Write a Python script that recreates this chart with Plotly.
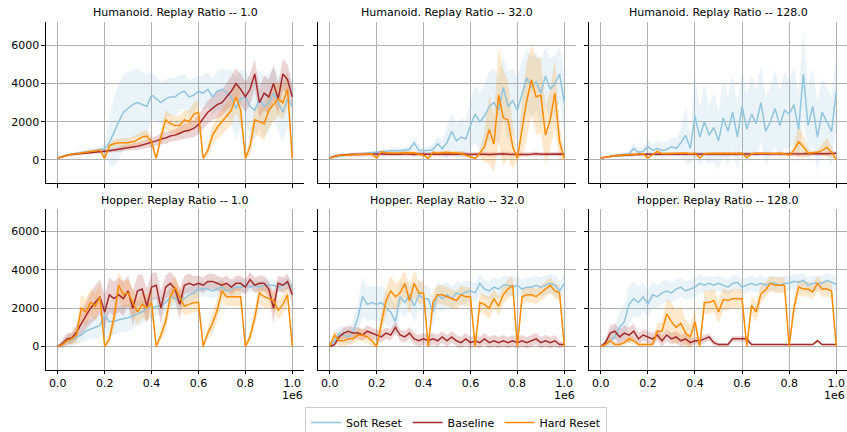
import numpy as np
import plotly.graph_objects as go

# Evaluation steps (in units of 1e6 environment steps)
STEPS = np.linspace(0.0, 1.0, 51)

TITLES = ["Humanoid. Replay Ratio -- 1.0", "Humanoid. Replay Ratio -- 32.0", "Humanoid. Replay Ratio -- 128.0",
          "Hopper. Replay Ratio -- 1.0", "Hopper. Replay Ratio -- 32.0", "Hopper. Replay Ratio -- 128.0"]
SERIES = ["Soft Reset", "Baseline", "Hard Reset"]
XTICKS = [0.0, 0.2, 0.4, 0.6, 0.8, 1.0]
YTICKS = [0, 2000, 4000, 6000]

# ---------------- Humanoid, RR 1.0 ----------------
H1_SOFT = [100,180,250,300,350,380,420,450,500,550, 600,900,1500,2000,2500,2700,2900,3000,2900,2800,
           3400,3200,3000,3200,3300,3300,3500,3600,3300,3400, 3600,3500,3700,3300,3600,3700,3500,3300,2700,3200,
           3300,2800,2600,3200,2800,3000,3500,3000,2500,3200, 2800]
H1_SOFT_SD = [30,50,60,80,100,100,120,150,150,200, 300,1200,1800,2000,2000,1900,1800,1800,1700,1700,
              1200,1200,1100,1000,1000,1000,900,900,900,900, 800,900,900,1000,1000,1100,1200,1400,1600,1500,
              1400,1500,1600,1500,1600,1500,1400,1500,1600,1400, 1200]
H1_BASE = [100,180,250,290,320,350,380,400,420,440, 460,480,520,560,600,620,680,720,780,850,
           900,1000,1100,1150,1250,1300,1400,1500,1550,1650, 1850,2200,2500,2700,2900,3000,3300,3600,4000,3700,
           3300,3700,4500,3000,3500,3300,4000,3200,4500,4200, 3300]
H1_BASE_SD = [30,40,50,50,60,60,70,80,80,90, 100,100,120,130,150,150,160,180,200,220,
              250,250,280,300,300,300,350,400,400,450, 500,550,600,600,700,700,700,800,800,800,
              800,800,800,800,900,900,900,800,800,800, 700]
H1_HARD = [100,180,250,300,330,360,400,430,470,520, 80,750,850,900,900,900,950,1050,1200,1250,
           950,80,1200,2100,1900,1800,1800,2100,2000,2400, 2500,80,500,1300,1700,2000,2300,2600,3300,2600,
           80,700,2100,2000,1900,2600,2900,3200,3000,3700, 80]
H1_HARD_SD = [30,40,50,60,60,70,80,80,90,100, 50,150,200,200,250,250,250,300,300,300,
              300,50,400,500,500,500,500,500,600,600, 600,50,300,500,600,700,700,800,800,800,
              50,500,700,800,900,900,900,900,900,900, 50]

# ---------------- Humanoid, RR 32.0 ----------------
H32_SOFT = [100,150,200,230,260,280,300,320,350,380, 400,420,450,480,500,480,500,550,900,500,
            500,500,550,850,600,900,1500,1000,1200,1100, 1800,2400,2000,2300,2800,3000,2600,3800,2800,3100,
            2600,3500,4300,3800,4100,3500,4400,3700,4000,4500, 3000]
H32_SOFT_SD = [30,40,50,50,60,60,70,80,80,90, 100,100,120,120,150,150,150,200,300,200,
               200,200,250,400,400,800,1000,900,1000,1000, 1200,1500,1500,1600,1800,1800,1800,1600,1800,1700,
               1800,1700,1500,1600,1500,1700,1500,1600,1500,1400, 1500]
H32_BASE = [100,200,250,270,280,300,290,300,310,290, 300,320,300,290,310,300,320,300,290,310,
            300,320,300,310,300,290,310,300,320,300, 290,300,310,300,290,310,300,320,300,290,
            310,300,290,300,320,300,310,290,300,310, 300]
H32_BASE_SD = [30,50,60,70,80,90,100,100,110,110, 120,120,120,120,120,120,120,120,120,120,
               120,120,120,120,120,120,120,120,120,120, 120,120,120,120,120,120,120,120,120,120,
               120,120,120,120,120,120,120,120,120,120, 100]
H32_HARD = [100,180,230,250,260,280,300,300,320,320, 100,430,380,350,350,370,380,400,380,300,
            250,80,400,350,380,400,380,370,350,250, 150,80,350,700,1600,830,3400,2200,2100,700,
            80,1700,3100,4200,3300,3400,1300,2100,3500,950, 80]
H32_HARD_SD = [30,40,50,50,60,60,70,70,80,80, 50,100,100,100,100,100,100,100,100,100,
               100,50,100,100,100,100,100,100,100,100, 100,50,200,800,1800,1500,2500,2500,2000,1200,
               50,1500,2000,1800,2000,2000,1500,1500,1800,1000, 50]

# ---------------- Humanoid, RR 128.0 ----------------
H128_SOFT = [100,150,200,230,260,300,320,600,400,450, 700,500,600,500,550,700,600,900,1300,600,
             2300,1200,2000,1300,1700,1000,2200,1500,2500,1200, 2800,1600,2400,1900,3000,1500,2000,2700,1800,2600,
             2400,2900,1600,4500,1800,2800,1200,2500,2000,1500, 3600]
H128_SOFT_SD = [30,50,60,80,100,120,150,300,200,250, 400,300,400,400,400,500,500,700,1500,800,
                2200,1500,2000,1500,1800,1500,2000,1800,2000,1700, 2000,1800,2000,1800,2000,1800,1800,2000,1800,2000,
                1800,2000,1800,2200,2000,2000,1800,1800,1800,1800, 1900]
H128_BASE = [100,150,200,220,240,260,270,280,290,300, 300,310,300,310,320,300,310,320,310,300,
             320,310,300,320,310,320,300,310,320,330, 310,320,300,310,330,320,310,320,330,300,
             320,330,310,320,340,330,320,310,330,340, 350]
H128_BASE_SD = [30,40,50,60,60,70,70,80,80,80, 90,90,90,90,90,90,90,90,90,90,
                100,100,100,100,100,100,100,100,100,100, 100,100,100,100,100,100,100,100,100,100,
                100,100,100,100,100,100,100,100,100,100, 100]
H128_HARD = [100,150,200,220,250,260,280,300,300,320, 100,300,450,330,340,350,330,340,360,320,
             350,100,330,340,350,330,340,350,340,330, 350,120,330,350,340,360,330,340,350,330,
             250,500,950,700,350,380,400,500,660,400, 30]
H128_HARD_SD = [30,40,50,50,60,60,60,60,60,60, 40,60,80,60,60,60,60,60,60,60,
                60,40,60,60,60,60,60,60,60,60, 60,40,60,60,60,60,60,60,60,60,
                60,300,800,600,200,100,100,300,500,300, 30]

# ---------------- Hopper, RR 1.0 ----------------
P1_SOFT = [0,150,300,350,500,600,800,900,1000,1100, 1600,1300,1300,1400,1450,1500,1600,1700,1800,2000,
           2000,2100,2100,2300,2600,2500,2400,2500,2700,2800, 3000,3000,3000,2900,3000,3100,2900,3000,3100,3100,
           3200,3100,3200,3100,3200,3200,3200,3100,3200,3300, 3100]
P1_SOFT_SD = [50,200,300,300,400,400,500,500,600,600, 700,700,700,700,700,700,700,600,600,600,
              500,500,500,500,500,500,500,500,400,400, 400,400,400,400,400,400,400,400,400,400,
              300,300,300,300,300,300,300,300,300,300, 300]
P1_BASE = [0,150,400,450,750,1200,1600,2000,2300,2600, 1800,2700,2500,2700,2500,2900,2000,2900,3000,2100,
           3100,3200,2000,3100,3300,3000,2200,3200,3300,3200, 3300,3200,3400,3400,3300,3200,3300,3100,3300,3300,
           3100,3500,3200,3300,3300,3000,2000,3300,3200,3400, 2700]
P1_BASE_SD = [50,200,300,300,400,600,700,800,900,900, 900,900,900,900,900,800,900,800,800,900,
              700,700,900,600,600,600,800,500,500,500, 400,400,400,400,400,400,400,400,400,400,
              400,400,400,400,400,400,800,400,400,400, 500]
P1_HARD = [0,100,300,400,600,2000,1800,2300,2100,2600, 0,400,1500,3200,2700,2800,2300,1800,2200,2000,
           2300,0,600,1300,2600,3100,2600,2100,2200,2300, 2300,0,700,1200,1900,2900,2600,2600,2600,2600,
           0,500,1500,2800,2600,2500,2400,1900,2200,2700, 0]
P1_HARD_SD = [50,100,200,300,400,700,700,700,700,700, 50,300,600,700,700,700,700,700,700,700,
              700,50,300,500,600,600,500,500,500,500, 500,50,300,500,600,600,500,500,500,500,
              50,300,500,600,600,500,500,500,500,500, 50]

# ---------------- Hopper, RR 32.0 ----------------
P32_SOFT = [0,300,700,600,500,800,1500,2600,2200,2300, 2200,2300,2000,1800,1300,2600,2300,2700,2100,2700,
            2500,2500,1800,2700,2500,2700,2500,2800,2700,2850, 2900,2800,3300,3000,2900,3100,3000,3200,3200,3100,
            3200,3000,3100,3100,3200,3100,3200,3300,3200,2900, 3300]
P32_SOFT_SD = [50,300,400,400,400,500,800,1000,900,900, 900,900,900,800,800,800,800,800,800,800,
               700,700,800,700,700,700,600,600,600,600, 500,500,500,500,500,500,500,500,500,500,
               500,500,500,500,500,500,500,500,500,500, 500]
P32_BASE = [0,100,500,700,800,700,700,600,800,700, 600,500,700,600,1000,600,500,700,400,300,
            400,300,400,300,500,300,500,300,200,400, 200,300,200,400,200,300,200,300,200,300,
            200,300,200,300,400,200,300,200,300,100, 100]
P32_BASE_SD = [50,100,200,300,300,300,300,300,300,300, 300,300,300,300,300,300,300,300,300,300,
               300,300,300,300,300,300,300,300,300,300, 300,300,300,300,300,300,300,300,300,300,
               300,300,300,300,300,300,300,300,300,200, 100]
P32_HARD = [0,600,300,300,400,400,600,600,500,300, 0,1200,2400,2900,2600,2800,3300,2400,3300,2800,
            2800,0,2300,2700,2700,2600,2500,2400,2700,2600, 2600,0,2300,2200,2000,2500,2100,2700,3000,3200,
            0,2600,2700,2700,2600,2800,3000,3200,2900,2800, 0]
P32_HARD_SD = [50,300,300,300,300,300,300,300,300,300, 50,600,700,800,700,700,700,700,700,600,
               600,50,500,500,500,500,500,500,500,500, 500,50,500,500,600,500,500,500,500,500,
               50,400,400,400,400,400,400,400,400,400, 50]

# ---------------- Hopper, RR 128.0 ----------------
P128_SOFT = [0,100,300,500,1000,1300,2200,2500,2300,2600, 2200,2700,2600,2800,2900,2800,3000,3100,2900,3000,
             3100,3300,3200,3300,3200,3300,3200,3100,3300,3350, 3100,3200,3300,3200,3300,3200,3300,3300,3200,3300,
             3300,3400,3350,3450,3200,3300,3300,3300,3450,3350, 3250]
P128_SOFT_SD = [50,200,400,600,800,900,1000,900,800,800, 700,700,600,600,600,500,500,500,500,500,
                500,500,400,400,400,400,400,400,400,400, 400,400,400,400,400,400,400,400,400,400,
                400,400,400,400,400,400,400,400,400,400, 400]
P128_BASE = [0,200,700,800,500,700,600,800,400,600, 500,400,600,300,600,400,500,300,400,200,
             300,300,400,500,200,100,100,100,400,400, 400,400,100,100,100,100,100,100,100,100,
             100,100,100,100,100,100,300,100,100,100, 100]
P128_BASE_SD = [50,200,400,400,400,400,400,400,300,300, 300,300,300,300,300,300,300,300,300,200,
                200,200,200,200,150,100,100,100,150,150, 150,150,50,50,50,50,50,50,50,50,
                50,50,50,50,50,50,100,50,50,50, 50]
P128_HARD = [0,100,300,100,100,200,400,300,100,100, 100,100,800,800,1700,1300,1000,1200,700,500,
             1300,0,2300,2300,2400,1800,2450,2400,2500,2500, 2500,0,2150,1800,2750,2950,3300,3200,3200,3200,
             0,2000,3100,3000,3000,2850,3300,3000,3000,2900, 0]
P128_HARD_SD = [50,100,200,100,100,150,200,200,100,100, 100,100,400,500,800,1000,900,900,700,600,
                700,50,600,600,600,600,600,500,500,500, 500,50,500,500,500,400,400,400,400,400,
                50,500,400,400,400,400,400,400,400,400, 50]

COLORS = ["#92c5de", "#a52a2a", "#ff8c00"]
FILLS = ["rgba(146,197,222,0.2)", "rgba(165,42,42,0.2)", "rgba(255,140,0,0.2)"]

PANELS = [
    (H1_SOFT, H1_SOFT_SD, H1_BASE, H1_BASE_SD, H1_HARD, H1_HARD_SD),
    (H32_SOFT, H32_SOFT_SD, H32_BASE, H32_BASE_SD, H32_HARD, H32_HARD_SD),
    (H128_SOFT, H128_SOFT_SD, H128_BASE, H128_BASE_SD, H128_HARD, H128_HARD_SD),
    (P1_SOFT, P1_SOFT_SD, P1_BASE, P1_BASE_SD, P1_HARD, P1_HARD_SD),
    (P32_SOFT, P32_SOFT_SD, P32_BASE, P32_BASE_SD, P32_HARD, P32_HARD_SD),
    (P128_SOFT, P128_SOFT_SD, P128_BASE, P128_BASE_SD, P128_HARD, P128_HARD_SD),
]

W, H = 847, 432
def fx(px):
    return px / W
def fy(py):
    return 1 - py / H

COL_PX = [(46, 304), (318, 576), (589, 847)]
ROW_PX = [(22.4, 182.9), (208.6, 369.5)]
XRANGES = [[-0.05, 1.05], [-0.05, 1.05], [-0.05, 1.0455]]
TITLE_Y_PX = [13, 200]

FONT = "DejaVu Sans"
fig = go.Figure()
layout = {}
annotations = []

for i, pan in enumerate(PANELS):
    r, c = divmod(i, 3)
    xa = "x" if i == 0 else f"x{i+1}"
    ya = "y" if i == 0 else f"y{i+1}"
    x = STEPS
    for s in range(3):
        m = np.array(pan[2 * s], dtype=float)
        sd = np.array(pan[2 * s + 1], dtype=float)
        fig.add_trace(go.Scatter(
            x=np.concatenate([x, x[::-1]]),
            y=np.concatenate([m + sd, (m - sd)[::-1]]),
            fill="toself", fillcolor=FILLS[s], line=dict(width=0),
            mode="lines", hoverinfo="skip", showlegend=False, xaxis=xa, yaxis=ya))
    for s in range(3):
        fig.add_trace(go.Scatter(
            x=x, y=pan[2 * s], mode="lines", name=SERIES[s],
            line=dict(color=COLORS[s], width=1.5),
            showlegend=(i == 0), xaxis=xa, yaxis=ya))

    x0, x1 = COL_PX[c]
    y0, y1 = ROW_PX[r]
    axkey = "xaxis" if i == 0 else f"xaxis{i+1}"
    aykey = "yaxis" if i == 0 else f"yaxis{i+1}"
    layout[axkey] = dict(
        domain=[fx(x0), min(fx(x1), 1.0)], anchor=ya, range=XRANGES[c],
        tickvals=XTICKS, ticktext=[f"{v:.1f}" for v in XTICKS],
        showticklabels=(r == 1), ticks="outside", ticklen=3.5, tickwidth=1, tickcolor="black",
        showline=True, linecolor="black", linewidth=1.3, mirror=False,
        showgrid=True, gridcolor="#b0b0b0", gridwidth=0.8, zeroline=False, automargin=False,
        tickfont=dict(family=FONT, size=11, color="black"), fixedrange=True)
    layout[aykey] = dict(
        domain=[fy(y1), fy(y0)], anchor=xa, range=[-1200, 7200],
        tickvals=YTICKS, showticklabels=(c == 0), ticks="outside", ticklen=3.5, tickwidth=1,
        tickcolor="black", showline=True, linecolor="black", linewidth=1.3, mirror=False,
        showgrid=True, gridcolor="#b0b0b0", gridwidth=0.8, zeroline=False, automargin=False,
        tickfont=dict(family=FONT, size=11, color="black"), fixedrange=True)
    annotations.append(dict(
        text=TITLES[i], x=fx((x0 + x1) / 2), y=fy(TITLE_Y_PX[r]),
        xref="paper", yref="paper", xanchor="center", yanchor="middle", showarrow=False,
        font=dict(family=FONT, size=11, color="black")))
    if r == 1:
        annotations.append(dict(
            text="1e6", x=min(fx(x1 + 1), 1.0), y=fy(395), xref="paper", yref="paper",
            xanchor="right", yanchor="middle", showarrow=False,
            font=dict(family=FONT, size=11, color="black")))

fig.update_layout(
    width=W, height=H, margin=dict(l=0, r=0, t=0, b=0, autoexpand=False),
    paper_bgcolor="white", plot_bgcolor="white",
    font=dict(family=FONT, size=11, color="black"),
    annotations=annotations,
    legend=dict(orientation="h", x=fx(305), y=fy(438), xanchor="left", yanchor="bottom",
                bordercolor="#cccccc", borderwidth=1, bgcolor="white",
                font=dict(family=FONT, size=11, color="black"), tracegroupgap=0),
    **layout)

# remove the default page margin so the figure fills the window exactly
fig.write_html("out.html", config={"displayModeBar": False},
               post_script="document.body.style.margin='0px';document.body.style.overflow='hidden';")
